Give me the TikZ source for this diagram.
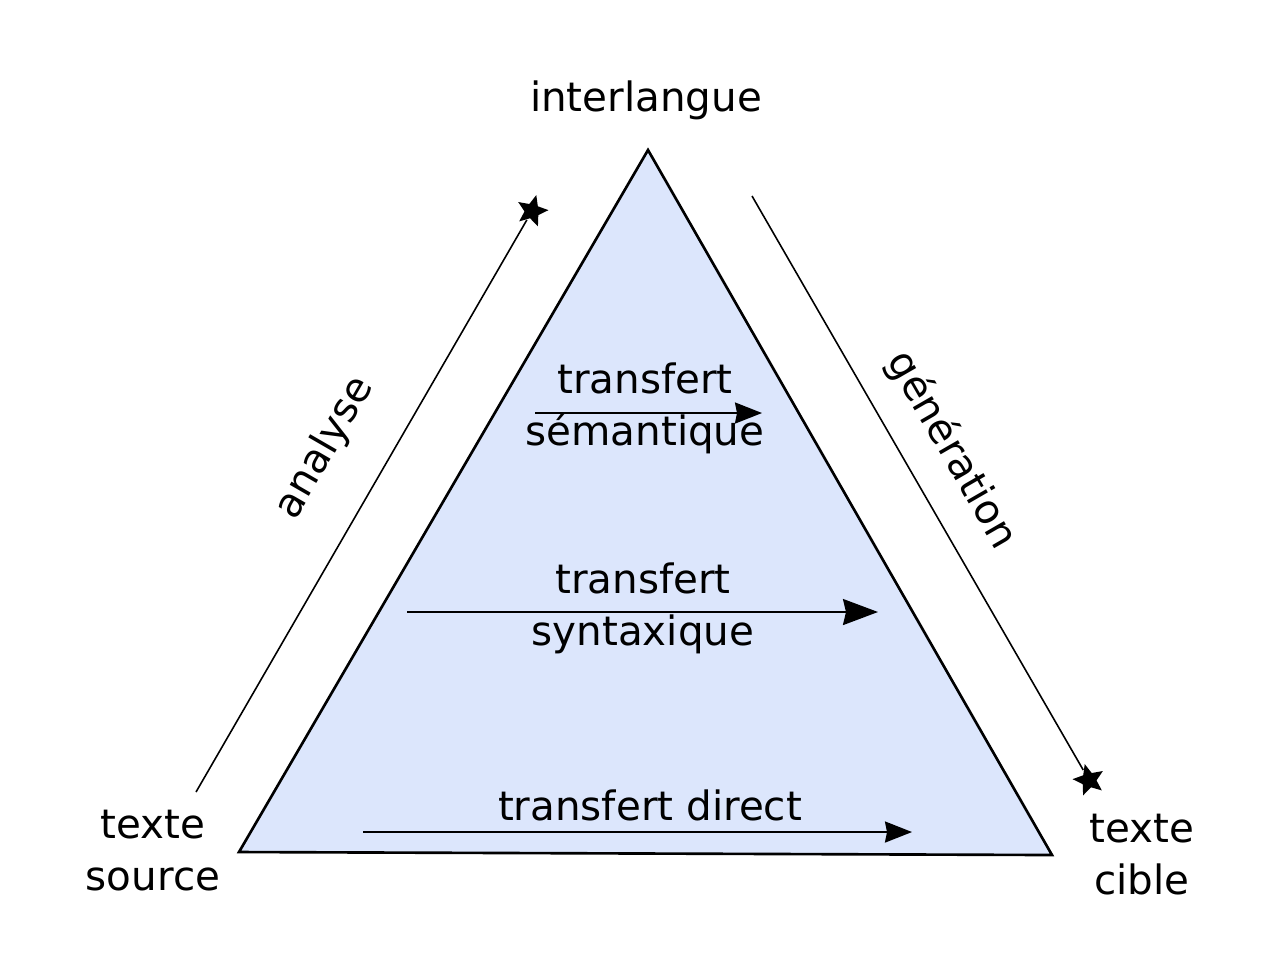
\documentclass[tikz,border=0pt]{standalone}
\usepackage{fontspec}
\setmainfont{DejaVu Sans}
\usetikzlibrary{shapes.geometric,arrows.meta}

\begin{document}
\begin{tikzpicture}[
  lbl/.style={font=\fontsize{11.5}{14.8}\selectfont, align=center, inner sep=0pt},
  starmark/.style={star, star points=5, star point ratio=2.2, fill=black, draw=none, minimum size=0.33cm, inner sep=0pt},
  xfer/.style={line width=0.6pt, -{Stealth[length=0.27cm, width=0.21cm, inset=0.02cm]}}
]
\useasboundingbox (0,0) rectangle (12.8,-9.69);

\coordinate (T0) at (6.48,-1.50);
\coordinate (T1) at (2.39,-8.52);
\coordinate (T2) at (10.52,-8.55);
\draw[fill={rgb,255:red,220;green,230;blue,252}, line width=0.75pt, line join=miter] (T0) -- (T1) -- (T2) -- cycle;

\node[lbl] (N0) at (6.46,-1.00) {interlangue};
\node[lbl] (N1) at (1.53,-8.51) {texte\\source};
\node[lbl] (N2) at (11.42,-8.55) {texte\\cible};
\node[lbl, rotate=60] (N3) at (3.25,-4.48) {analyse};
\node[lbl, rotate=-60] (N4) at (9.52,-4.50) {génération};
\node[lbl] (N5) at (6.45,-4.08) {transfert\\sémantique};
\node[lbl] (N6) at (6.43,-6.08) {transfert\\syntaxique};
\node[lbl] (N7) at (6.50,-8.05) {transfert direct};

% analyse / generation
\coordinate (A0) at (1.96,-7.92);
\node[starmark, rotate=-15] (S1) at (5.32,-2.11) {};
\coordinate (G0) at (7.52,-1.96);
\node[starmark, rotate=15] (S2) at (10.89,-7.80) {};
\path[line width=0.45pt] (A0) edge (S1) (G0) edge (S2);

% transferts
\coordinate (X0) at (5.35,-4.13);
\coordinate (X1) at (7.62,-4.13);
\coordinate (Y0) at (4.07,-6.12);
\coordinate (Y1) at (8.78,-6.12);
\coordinate (Z0) at (3.63,-8.32);
\coordinate (Z1) at (9.12,-8.32);
\path[xfer] (X0) edge (X1) (Z0) edge (Z1);
\path[xfer, -{Stealth[length=0.35cm, width=0.26cm, inset=0.03cm]}] (Y0) edge (Y1);
\end{tikzpicture}
\end{document}
